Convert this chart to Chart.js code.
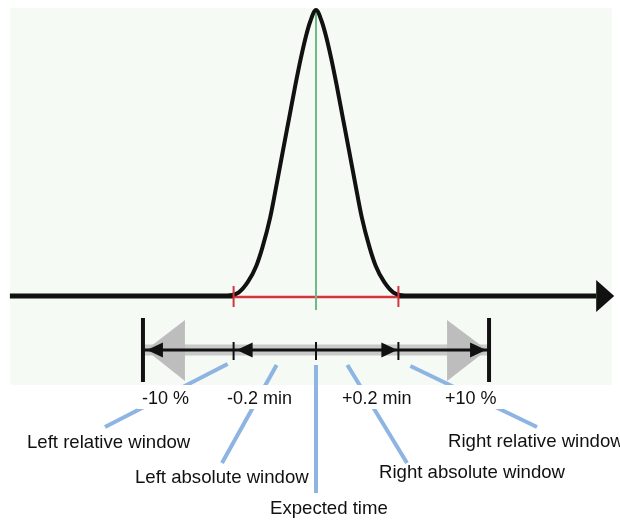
<!DOCTYPE html>
<html>
<head>
<meta charset="utf-8">
<script src="https://cdn.jsdelivr.net/npm/chart.js@4.4.0/dist/chart.umd.min.js"></script>
<style>
html,body{margin:0;padding:0;background:#fff;}
#wrap{width:620px;height:520px;}
</style>
</head>
<body>
<div id="wrap"><canvas id="chart" width="620" height="520"></canvas></div>
<script>
// DATA
const expectedTime = 4.2;   // min
const absWindow = 0.2;      // +/- min
const relWindow = 10;       // +/- %
const axisStart = 3.457, axisEnd = 4.880;

const peakTime   = [3.985, 4.012, 4.035, 4.055, 4.070, 4.089, 4.105, 4.120, 4.135, 4.150, 4.163, 4.175, 4.186, 4.200,
                    4.214, 4.225, 4.237, 4.250, 4.265, 4.280, 4.295, 4.311, 4.330, 4.345, 4.365, 4.388, 4.415];
const peakHeight = [0, 1.2, 5.0, 10.5, 17.0, 27.6, 39.5, 51.0, 62.4, 73.8, 83.0, 90.5, 96.0, 100,
                    96.0, 90.5, 83.0, 73.8, 62.4, 51.0, 39.5, 27.6, 17.0, 10.5, 5.0, 1.2, 0];

const valueLabels = ['-10 %', '-0.2 min', '+0.2 min', '+10 %'];
const windowNames = ['Left relative window', 'Left absolute window', 'Expected time',
                     'Right absolute window', 'Right relative window'];

const FONT = '"Liberation Sans", Arial, sans-serif';

function tri(ctx, a, b, c, col){
  ctx.beginPath();
  ctx.moveTo(a[0], a[1]); ctx.lineTo(b[0], b[1]); ctx.lineTo(c[0], c[1]);
  ctx.closePath();
  ctx.fillStyle = col; ctx.fill();
}
function seg(ctx, x1, y1, x2, y2, col, w){
  ctx.beginPath(); ctx.moveTo(x1, y1); ctx.lineTo(x2, y2);
  ctx.strokeStyle = col; ctx.lineWidth = w; ctx.stroke();
}

// background, arrows, leader lines and texts
const diagram = {
  id: 'diagram',
  beforeDraw(c){
    const ctx = c.ctx;
    ctx.save();
    ctx.fillStyle = '#f5faf5';
    ctx.fillRect(10, 8, 602, 377);
    ctx.restore();
  },
  afterDatasetsDraw(c){
    const ctx = c.ctx, x = c.scales.x, y = c.scales.y;
    const y0 = y.getPixelForValue(0);
    const xc = x.getPixelForValue(expectedTime);
    const aL = x.getPixelForValue(expectedTime - absWindow);
    const aR = x.getPixelForValue(expectedTime + absWindow);
    const rL = x.getPixelForValue(expectedTime * (1 - relWindow / 100));
    const rR = x.getPixelForValue(expectedTime * (1 + relWindow / 100));
    const xEnd = x.getPixelForValue(axisEnd);
    ctx.save();

    // time axis arrow head
    tri(ctx, [xEnd, y0 - 16], [xEnd + 18, y0], [xEnd, y0 + 16], '#111');

    // red ticks on absolute window
    [aL, aR].forEach(p => seg(ctx, p, y0 - 10, p, y0 + 11, '#d3363f', 2));

    // window arrows
    const ry = y0 + 54;
    ctx.fillStyle = '#c9c9c9';
    ctx.fillRect(rL, ry - 5.5, rR - rL, 11);
    tri(ctx, [rL + 3, ry], [rL + 42, ry - 30], [rL + 42, ry + 31], '#bdbdbd');
    tri(ctx, [rR - 2, ry], [rR - 42, ry - 30], [rR - 42, ry + 31], '#bdbdbd');
    seg(ctx, rL, ry, rR, ry, '#111', 3);
    [rL, rR].forEach(p => seg(ctx, p, ry - 32, p, ry + 32, '#111', 4));
    [aL, xc, aR].forEach(p => seg(ctx, p, ry - 8, p, ry + 10, '#111', 2));
    const head = (tip, dir) => tri(ctx, [tip, ry], [tip - dir * 16, ry - 7.5], [tip - dir * 16, ry + 7.5], '#111');
    head(rL + 4, -1); head(aL + 3, -1); head(aR - 1, 1); head(rR - 3, 1);

    // leader lines
    const blue = '#8db4e2';
    seg(ctx, aL - 6, ry + 14, 105, 427, blue, 4);
    seg(ctx, aL + 43, ry + 15, 222, 463, blue, 4);
    seg(ctx, xc, ry + 15, xc, 493, blue, 4);
    seg(ctx, aR - 51, ry + 15, 407, 463, blue, 4);
    seg(ctx, aR + 12, ry + 16, 537, 427, blue, 4);

    // value labels with white boxes
    ctx.font = '18px ' + FONT;
    ctx.textBaseline = 'alphabetic';
    ctx.textAlign = 'left';
    const vx = [142, 227, 342, 445];
    valueLabels.forEach((t, i) => {
      const w = ctx.measureText(t).width;
      ctx.fillStyle = '#ffffff';
      ctx.fillRect(vx[i] - 5, 385, w + 12, 24);
      ctx.fillStyle = '#111';
      ctx.fillText(t, vx[i], 404);
    });

    // window names
    ctx.font = '18.6px ' + FONT;
    const nx = [27, 135, 270, 379, 448], ny = [448, 483, 514, 478, 447];
    windowNames.forEach((t, i) => {
      ctx.fillStyle = '#111';
      ctx.fillText(t, nx[i], ny[i]);
    });
    ctx.restore();
  }
};

const peakData = peakTime.map((t, i) => ({x: t, y: peakHeight[i]}));

new Chart(document.getElementById('chart'), {
  type: 'scatter',
  data: {
    datasets: [
      {label: 'Peak', data: peakData, showLine: true, borderColor: '#111', borderWidth: 4,
       cubicInterpolationMode: 'monotone', pointRadius: 0},
      {label: 'Time axis', data: [{x: axisStart, y: 0}, {x: expectedTime - absWindow, y: 0}, {x: expectedTime, y: null},
                                  {x: expectedTime + absWindow, y: 0}, {x: axisEnd, y: 0}],
       showLine: true, spanGaps: false, borderColor: '#111', borderWidth: 5, pointRadius: 0},
      {label: 'Expected time', data: [{x: expectedTime, y: 100}, {x: expectedTime, y: -4.9}],
       showLine: true, borderColor: '#6cbb84', borderWidth: 2, pointRadius: 0},
      {label: 'Absolute window', data: [{x: expectedTime - absWindow, y: -0.35}, {x: expectedTime + absWindow, y: -0.35}],
       showLine: true, borderColor: '#d3363f', borderWidth: 2.5, pointRadius: 0}
    ]
  },
  options: {
    responsive: false,
    devicePixelRatio: 1,
    animation: false,
    layout: {padding: 0},
    plugins: {legend: {display: false}, tooltip: {enabled: false}},
    scales: {
      x: {type: 'linear', min: 3.43301, max: 4.93786, display: false},
      y: {min: -78.32, max: 103.5, display: false}
    }
  },
  plugins: [diagram]
});
</script>
</body>
</html>
